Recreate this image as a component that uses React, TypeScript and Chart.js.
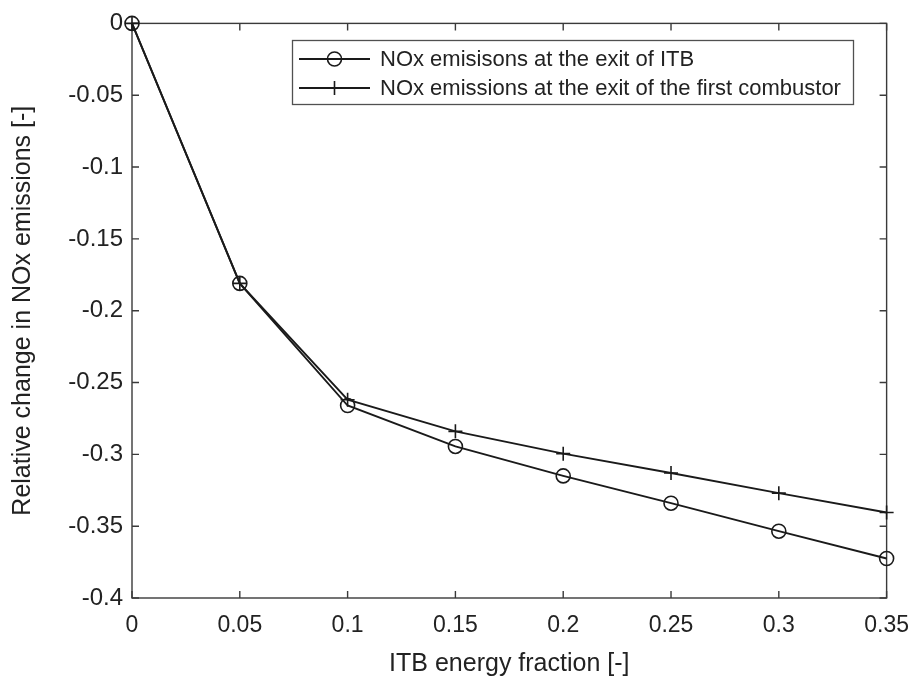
import React, { useEffect, useRef } from 'react';
import { Chart, registerables } from 'chart.js';

Chart.register(...registerables);

const xValues = [0, 0.05, 0.1, 0.15, 0.2, 0.25, 0.3, 0.35];
const itbExit = [0, -0.181, -0.266, -0.2945, -0.315, -0.334, -0.3535, -0.3725];
const firstCombustorExit = [0, -0.181, -0.262, -0.284, -0.2995, -0.313, -0.327, -0.3405];
const seriesLabels = [
  'NOx emisisons at the exit of ITB',
  'NOx emissions at the exit of the first combustor',
];
const xTicks = [0, 0.05, 0.1, 0.15, 0.2, 0.25, 0.3, 0.35];
const xTickLabels = ['0', '0.05', '0.1', '0.15', '0.2', '0.25', '0.3', '0.35'];
const yTicks = [0, -0.05, -0.1, -0.15, -0.2, -0.25, -0.3, -0.35, -0.4];
const yTickLabels = ['0', '-0.05', '-0.1', '-0.15', '-0.2', '-0.25', '-0.3', '-0.35', '-0.4'];
const xTitle = 'ITB energy fraction [-]';
const yTitle = 'Relative change in NOx emissions [-]';

const FONT = "'Liberation Sans', Arial, Helvetica, sans-serif";
const INK = '#1a1a1a';
const AXIS = '#3a3a3a';

const framePlugin = {
  id: 'matlabFrame',
  beforeDatasetsDraw(chart: any) {
    const { ctx, chartArea: a, scales } = chart;
    ctx.save();
    ctx.strokeStyle = AXIS;
    ctx.lineWidth = 1.4;
    ctx.strokeRect(a.left, a.top, a.right - a.left, a.bottom - a.top);
    const tl = 7;
    ctx.beginPath();
    scales.x.ticks.forEach((t: any) => {
      const px = scales.x.getPixelForValue(t.value);
      ctx.moveTo(px, a.bottom);
      ctx.lineTo(px, a.bottom - tl);
      ctx.moveTo(px, a.top);
      ctx.lineTo(px, a.top + tl);
    });
    scales.y.ticks.forEach((t: any) => {
      const py = scales.y.getPixelForValue(t.value);
      ctx.moveTo(a.left, py);
      ctx.lineTo(a.left + tl, py);
      ctx.moveTo(a.right, py);
      ctx.lineTo(a.right - tl, py);
    });
    ctx.stroke();
    ctx.restore();
  },
};

const legendPlugin = {
  id: 'boxLegend',
  afterDraw(chart: any) {
    const { ctx } = chart;
    const box = { x: 292, y: 40, w: 561, h: 64 };
    ctx.save();
    ctx.fillStyle = '#ffffff';
    ctx.fillRect(box.x, box.y, box.w, box.h);
    ctx.strokeStyle = '#505050';
    ctx.lineWidth = 1.3;
    ctx.strokeRect(box.x + 0.5, box.y + 0.5, box.w, box.h);
    const rows = [59, 88];
    chart.data.datasets.forEach((ds: any, i: number) => {
      const y = rows[i];
      ctx.strokeStyle = INK;
      ctx.lineWidth = 1.8;
      ctx.beginPath();
      ctx.moveTo(299, y);
      ctx.lineTo(370, y);
      ctx.stroke();
      const cx = 334.5;
      ctx.lineWidth = 1.6;
      ctx.beginPath();
      if (ds.pointStyle === 'circle') {
        ctx.arc(cx, y, 7, 0, Math.PI * 2);
      } else {
        ctx.moveTo(cx, y - 7);
        ctx.lineTo(cx, y + 7);
        ctx.moveTo(cx - 7, y);
        ctx.lineTo(cx + 7, y);
      }
      ctx.stroke();
      ctx.fillStyle = '#222222';
      ctx.font = `22px ${FONT}`;
      ctx.textBaseline = 'middle';
      ctx.textAlign = 'left';
      ctx.fillText(ds.label, 380, y + 1);
    });
    ctx.restore();
  },
};

export default function App() {
  const canvasRef = useRef<HTMLCanvasElement | null>(null);

  useEffect(() => {
    const canvas = canvasRef.current;
    if (!canvas) return;
    const chart = new Chart(canvas, {
      type: 'scatter',
      data: {
        datasets: [
          {
            label: seriesLabels[0],
            data: xValues.map((x, i) => ({ x, y: itbExit[i] })),
            showLine: true,
            borderColor: INK,
            borderWidth: 1.9,
            pointStyle: 'circle',
            pointRadius: 7,
            pointBackgroundColor: 'rgba(0,0,0,0)',
            pointBorderColor: INK,
            pointBorderWidth: 1.6,
            clip: false as any,
          },
          {
            label: seriesLabels[1],
            data: xValues.map((x, i) => ({ x, y: firstCombustorExit[i] })),
            showLine: true,
            borderColor: INK,
            borderWidth: 1.9,
            pointStyle: 'cross',
            pointRadius: 7,
            pointBackgroundColor: 'rgba(0,0,0,0)',
            pointBorderColor: INK,
            pointBorderWidth: 1.6,
            clip: false as any,
          },
        ],
      },
      options: {
        animation: false,
        responsive: false,
        maintainAspectRatio: false,
        layout: { padding: { top: 18, right: 27, left: 0, bottom: 0 } },
        plugins: {
          legend: { display: false },
          tooltip: { enabled: false },
        },
        scales: {
          x: {
            type: 'linear',
            min: 0,
            max: 0.35,
            grid: { display: false, drawTicks: false },
            border: { display: false },
            afterBuildTicks: (scale: any) => {
              scale.ticks = xTicks.map((v) => ({ value: v }));
            },
            afterFit: (scale: any) => {
              scale.height = 93;
            },
            ticks: {
              padding: 14,
              color: '#222222',
              font: { family: FONT, size: 23 },
              maxRotation: 0,
              autoSkip: false,
              callback: (_v: any, i: number) => xTickLabels[i],
            },
            title: {
              display: true,
              text: xTitle,
              color: '#222222',
              font: { family: FONT, size: 25 },
              padding: { top: 0, bottom: 12 },
            },
          },
          y: {
            type: 'linear',
            min: -0.4,
            max: 0,
            grid: { display: false, drawTicks: false },
            border: { display: false },
            afterBuildTicks: (scale: any) => {
              scale.ticks = yTicks.map((v) => ({ value: v }));
            },
            afterFit: (scale: any) => {
              scale.width = 132;
            },
            ticks: {
              padding: 9,
              color: '#222222',
              font: { family: FONT, size: 24 },
              autoSkip: false,
              callback: (_v: any, i: number) => yTickLabels[i],
            },
            title: {
              display: true,
              text: yTitle,
              color: '#222222',
              font: { family: FONT, size: 25 },
              padding: { top: 8, bottom: 0 },
            },
          },
        },
      },
      plugins: [framePlugin, legendPlugin],
    });
    return () => chart.destroy();
  }, []);

  return (
    <div style={{ position: 'absolute', left: 0, top: 0, width: 923, height: 691, background: '#ffffff' }}>
      <canvas ref={canvasRef} width={923} height={691} style={{ display: 'block', width: 923, height: 691 }} />
    </div>
  );
}
